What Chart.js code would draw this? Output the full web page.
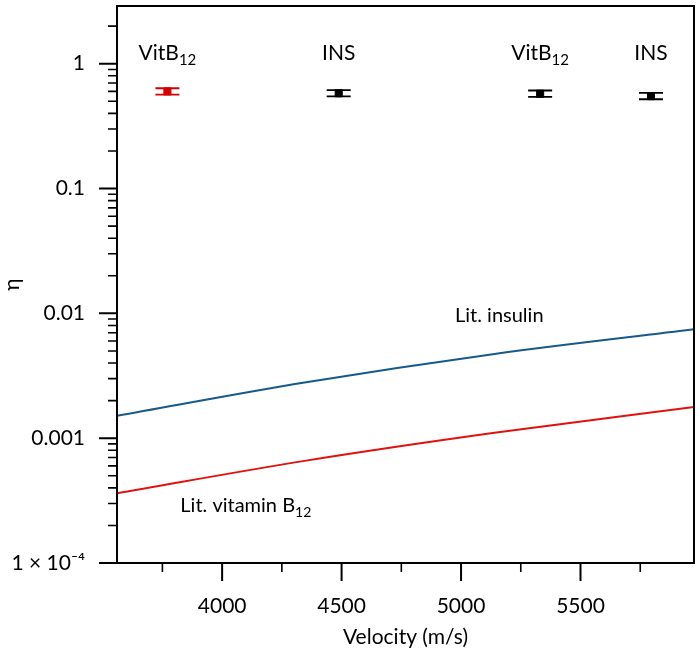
<!DOCTYPE html>
<html>
<head>
<meta charset="utf-8">
<script src="https://cdn.jsdelivr.net/npm/chart.js@4"></script>
<style>
  html, body { margin: 0; padding: 0; background: #fff; }
  #wrap { width: 700px; height: 655px; }
</style>
</head>
<body>
<div id="wrap"><canvas id="chart"></canvas></div>
<script>
// measured efficiencies (eta) vs velocity, with error range
const pointVel = [3771, 4488, 5331, 5795];
const pointEta = [0.60, 0.58, 0.575, 0.55];
const pointErrLow = [0.566, 0.547, 0.542, 0.519];
const pointErrHigh = [0.636, 0.615, 0.61, 0.583];
const pointColors = ["#d40000", "#000000", "#000000", "#000000"];
const pointNames = ["VitB", "INS", "VitB", "INS"];
const pointSubs = ["12", "", "12", ""];

// literature curves
const litVel = [3560, 4345, 5140, 5975];
const litInsulin = [0.00151, 0.00279, 0.00473, 0.00745];
const litVitB12 = [0.000362, 0.000658, 0.001105, 0.00178];

// axis ticks
const xMajor = [4000, 4500, 5000, 5500];
const xMinor = [3750, 4250, 4750, 5250, 5750];
const yMajor = [0.0001, 0.001, 0.01, 0.1, 1];
const yLabels = ["1 × 10⁻⁴", "0.001", "0.01", "0.1", "1"];

// curve labels (data coords)
const noteText = ["Lit. insulin", "Lit. vitamin B"];
const noteSub = ["", "12"];
const noteVel = [5160, 3825];
const noteEta = [0.0096, 0.000287];
const noteAlign = ["center", "left"];
const nameEta = 1.22; // row of the point labels

const FONT = "Lato, 'Open Sans', sans-serif";

// minor ticks of the log axis: 2..9 in each decade
const yMinor = [];
for (let e = -4; e <= 0; e++) {
  for (let k = 2; k <= 9; k++) yMinor.push(k * Math.pow(10, e));
}

function drawText(ctx, text, sub, x, y, align, size) {
  ctx.font = size + "px " + FONT;
  const w1 = ctx.measureText(text).width;
  ctx.font = Math.round(size * 0.7) + "px " + FONT;
  const w2 = sub ? ctx.measureText(sub).width : 0;
  let left = align === "center" ? x - (w1 + w2) / 2 : x;
  ctx.textAlign = "left";
  ctx.textBaseline = "middle";
  ctx.font = size + "px " + FONT;
  ctx.fillText(text, left, y);
  if (sub) {
    ctx.font = Math.round(size * 0.7) + "px " + FONT;
    ctx.fillText(sub, left + w1, y + size * 0.32);
  }
}

const extras = {
  id: "extras",
  afterDraw(chart) {
    const { ctx, chartArea: a, scales } = chart;
    const xs = scales.x, ys = scales.y;
    ctx.save();
    // frame
    ctx.strokeStyle = "#000";
    ctx.lineWidth = 2;
    ctx.strokeRect(a.left, a.top, a.right - a.left, a.bottom - a.top);
    // major ticks
    ctx.beginPath();
    xMajor.forEach(v => {
      const px = xs.getPixelForValue(v);
      ctx.moveTo(px, a.bottom); ctx.lineTo(px, a.bottom + 18);
    });
    yMajor.forEach(v => {
      const py = ys.getPixelForValue(v);
      ctx.moveTo(a.left, py); ctx.lineTo(a.left - 18, py);
    });
    ctx.stroke();
    // minor ticks
    ctx.lineWidth = 1.6;
    ctx.beginPath();
    xMinor.forEach(v => {
      const px = xs.getPixelForValue(v);
      ctx.moveTo(px, a.bottom);
      ctx.lineTo(px, a.bottom + 9);
    });
    yMinor.forEach(v => {
      const py = ys.getPixelForValue(v);
      if (py < a.top - 0.5 || py > a.bottom) return;
      ctx.moveTo(a.left, py);
      ctx.lineTo(a.left - 9, py);
    });
    ctx.stroke();

    // error bars
    pointVel.forEach((v, i) => {
      const px = xs.getPixelForValue(v);
      const lo = ys.getPixelForValue(pointErrLow[i]);
      const hi = ys.getPixelForValue(pointErrHigh[i]);
      ctx.strokeStyle = pointColors[i];
      ctx.lineWidth = 1.8;
      ctx.beginPath();
      ctx.moveTo(px, lo); ctx.lineTo(px, hi);
      ctx.moveTo(px - 12, lo); ctx.lineTo(px + 12, lo);
      ctx.moveTo(px - 12, hi); ctx.lineTo(px + 12, hi);
      ctx.stroke();
    });

    // labels
    ctx.fillStyle = "#000";
    pointVel.forEach((v, i) => {
      drawText(ctx, pointNames[i], pointSubs[i], xs.getPixelForValue(v), ys.getPixelForValue(nameEta), "center", 21);
    });
    noteText.forEach((t, i) => {
      drawText(ctx, t, noteSub[i], xs.getPixelForValue(noteVel[i]), ys.getPixelForValue(noteEta[i]), noteAlign[i], 20);
    });
    ctx.restore();
  }
};

new Chart(document.getElementById("chart"), {
  type: "scatter",
  data: {
    datasets: [
      {
        label: "Lit. insulin",
        data: litVel.map((v, i) => ({ x: v, y: litInsulin[i] })),
        showLine: true,
        borderColor: "#155a8a",
        borderWidth: 2,
        pointRadius: 0,
        cubicInterpolationMode: "monotone"
      },
      {
        label: "Lit. vitamin B12",
        data: litVel.map((v, i) => ({ x: v, y: litVitB12[i] })),
        showLine: true,
        borderColor: "#e0120e",
        borderWidth: 2,
        pointRadius: 0,
        cubicInterpolationMode: "monotone"
      },
      {
        label: "measured",
        data: pointVel.map((v, i) => ({ x: v, y: pointEta[i] })),
        pointStyle: "rect",
        pointRadius: 5,
        backgroundColor: pointColors,
        borderColor: pointColors,
        borderWidth: 1
      }
    ]
  },
  options: {
    responsive: true,
    maintainAspectRatio: false,
    animation: false,
    layout: { padding: { top: 5, right: 4, left: 0, bottom: 0 } },
    plugins: { legend: { display: false }, tooltip: { enabled: false } },
    scales: {
      x: {
        type: "linear",
        min: 3560,
        max: 5975,
        afterBuildTicks: s => { s.ticks = xMajor.map(v => ({ value: v })); },
        afterFit: s => { s.height = 92; s.paddingLeft = 0; s.paddingRight = 0; },
        grid: { display: false, drawTicks: true, tickLength: 18 },
        border: { display: true, color: "#000", width: 2 },
        ticks: { color: "#000", font: { family: FONT, size: 21 }, padding: 13, maxRotation: 0, callback: v => String(v) },
        title: { display: true, text: "Velocity (m/s)", color: "#000", font: { family: FONT, size: 21 }, padding: { top: 4, bottom: 5 } }
      },
      y: {
        type: "logarithmic",
        min: 0.0001,
        max: 2.9,
        afterBuildTicks: s => { s.ticks = yMajor.map(v => ({ value: v })); },
        afterFit: s => { s.width = 117; s.paddingTop = 0; s.paddingBottom = 0; },
        grid: { display: false, drawTicks: true, tickLength: 18 },
        border: { display: true, color: "#000", width: 2 },
        ticks: {
          color: "#000",
          font: { family: FONT, size: 21 },
          padding: 14,
          callback: (v) => {
            const i = yMajor.indexOf(v);
            return i >= 0 ? yLabels[i] : "";
          }
        },
        title: { display: true, text: "η", color: "#000", font: { family: FONT, size: 21 }, padding: { top: 0, bottom: 2 } }
      }
    }
  },
  plugins: [extras]
});
</script>
</body>
</html>
